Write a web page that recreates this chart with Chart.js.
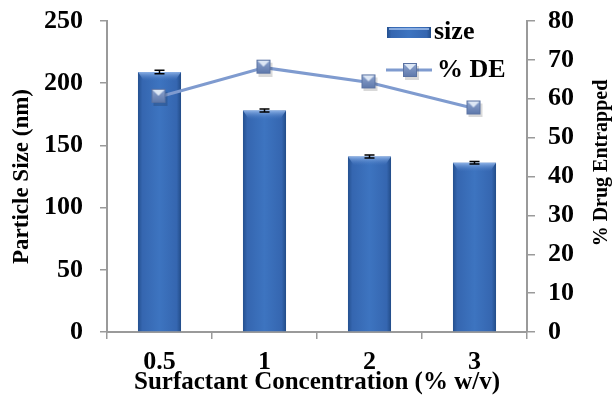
<!DOCTYPE html>
<html>
<head>
<meta charset="utf-8">
<script src="https://cdn.jsdelivr.net/npm/chart.js@4"></script>
<style>
  body { margin: 0; background: #fff; }
  #wrap { width: 616px; height: 398px; }
</style>
</head>
<body>
<div id="wrap"><canvas id="chart" width="616" height="398"></canvas></div>
<script>
// Chart data
const categories = ['0.5', '1', '2', '3'];
const sizeValues = [209, 178, 141, 136];
const sizeErrors = [1.5, 1.2, 1.2, 1.0];
const deValues = [60.5, 68, 64.2, 57.5];
const sizeTicks = [0, 50, 100, 150, 200, 250];
const deTicks = [0, 10, 20, 30, 40, 50, 60, 70, 80];

const FONT = "'Liberation Serif', 'Times New Roman', serif";
const LINE_COLOR = '#7f9bcf';
const AXIS_COLOR = '#9a9a9a';

// square marker with light triangle on top (like the Excel style)
function makeMarker() {
  const c = document.createElement('canvas');
  c.width = 18; c.height = 18;
  const g = c.getContext('2d');
  g.fillStyle = 'rgba(0,0,0,0.15)';
  g.fillRect(3, 4, 14, 14);
  const grad = g.createLinearGradient(0, 1, 0, 15);
  grad.addColorStop(0, '#8fa6d0');
  grad.addColorStop(1, '#5d77aa');
  g.fillStyle = grad;
  g.fillRect(1, 1, 14, 14);
  g.fillStyle = '#dde7f5';
  g.beginPath();
  g.moveTo(2, 2); g.lineTo(14, 2); g.lineTo(8, 8); g.closePath();
  g.fill();
  g.strokeStyle = '#5a72a2';
  g.lineWidth = 1;
  g.strokeRect(1.5, 1.5, 13, 13);
  return c;
}
const marker = makeMarker();

function barGradient(ctx, left, right) {
  const gr = ctx.createLinearGradient(left, 0, right, 0);
  gr.addColorStop(0, '#24508f');
  gr.addColorStop(0.1, '#3566b0');
  gr.addColorStop(0.5, '#3d74c0');
  gr.addColorStop(0.9, '#3566b0');
  gr.addColorStop(1, '#224c88');
  return gr;
}

// error bars + top bevel on the bars
const barExtras = {
  id: 'barExtras',
  afterDatasetDraw(chart, args) {
    if (args.index !== 1) return;
    const ctx = chart.ctx;
    const y = chart.scales.y;
    const meta = chart.getDatasetMeta(1);
    ctx.save();
    meta.data.forEach((bar, i) => {
      const half = bar.width / 2;
      const hg = ctx.createLinearGradient(0, bar.y, 0, bar.y + 9);
      hg.addColorStop(0, 'rgba(150,185,235,0.9)');
      hg.addColorStop(1, 'rgba(70,120,195,0)');
      ctx.fillStyle = hg;
      ctx.beginPath();
      ctx.moveTo(bar.x - half, bar.y);
      ctx.lineTo(bar.x + half, bar.y);
      ctx.lineTo(bar.x + half - 6, bar.y + 9);
      ctx.lineTo(bar.x - half + 6, bar.y + 9);
      ctx.closePath();
      ctx.fill();
      // error bar
      const top = y.getPixelForValue(sizeValues[i] + sizeErrors[i]);
      const bot = y.getPixelForValue(sizeValues[i] - sizeErrors[i]);
      ctx.strokeStyle = '#000';
      ctx.lineWidth = 1.5;
      ctx.beginPath();
      ctx.moveTo(bar.x, top); ctx.lineTo(bar.x, bot);
      ctx.moveTo(bar.x - 5, top); ctx.lineTo(bar.x + 5, top);
      ctx.moveTo(bar.x - 5, bot); ctx.lineTo(bar.x + 5, bot);
      ctx.stroke();
    });
    ctx.restore();
  }
};

// legend in the top right corner + right axis title (reads bottom to top)
const cornerLegend = {
  id: 'cornerLegend',
  afterDraw(chart) {
    const ctx = chart.ctx;
    ctx.save();
    ctx.fillStyle = barGradient(ctx, 387, 431);
    ctx.fillRect(387, 27, 44, 11);
    ctx.fillStyle = 'rgba(160,190,235,0.8)';
    ctx.fillRect(389, 28, 40, 2);
    ctx.strokeStyle = LINE_COLOR;
    ctx.lineWidth = 3;
    ctx.beginPath();
    ctx.moveTo(386, 70); ctx.lineTo(432, 70);
    ctx.stroke();
    ctx.drawImage(marker, 402, 62);
    ctx.fillStyle = '#000';
    ctx.font = 'bold 26px ' + FONT;
    ctx.textBaseline = 'middle';
    ctx.fillText('size', 434, 32);
    ctx.fillText('% DE', 437, 70);

    ctx.font = 'bold 20px ' + FONT;
    ctx.textAlign = 'center';
    ctx.translate(602, 163);
    ctx.rotate(-Math.PI / 2);
    ctx.fillText('% Drug Entrapped', 0, 0);
    ctx.restore();
  }
};

const tickFont = { family: FONT, size: 26, weight: 'bold' };

// fixed axis box sizes so the plot sits where the reference has it
function fitY(width) {
  return s => { s.width = width; s.paddingTop = 0; s.paddingBottom = 0; };
}

const ctx = document.getElementById('chart').getContext('2d');
const chart = new Chart(ctx, {
  data: {
    labels: categories,
    datasets: [{
      type: 'line',
      label: '% DE',
      data: deValues,
      yAxisID: 'y1',
      borderColor: LINE_COLOR,
      borderWidth: 3,
      pointStyle: marker,
      pointRadius: 8,
      fill: false,
      tension: 0,
      order: 0
    }, {
      type: 'bar',
      label: 'size',
      data: sizeValues,
      yAxisID: 'y',
      order: 1,
      barPercentage: 0.82,
      categoryPercentage: 0.5,
      backgroundColor: c => {
        const ch = c.chart;
        if (!ch.chartArea) return '#3567b0';
        const xs = ch.scales.x;
        const cx = xs.getPixelForValue(c.dataIndex);
        const half = (xs.width / categories.length) * 0.41 / 2;
        return barGradient(ch.ctx, cx - half, cx + half);
      }
    }]
  },
  options: {
    responsive: false,
    animation: false,
    devicePixelRatio: 1,
    layout: { padding: { top: 21, left: 0, right: 0, bottom: 0 } },
    plugins: {
      legend: { display: false },
      tooltip: { enabled: false }
    },
    scales: {
      x: {
        grid: { drawOnChartArea: false, tickLength: 7, color: AXIS_COLOR, lineWidth: 1.5 },
        border: { color: AXIS_COLOR, width: 2 },
        ticks: { color: '#000', font: tickFont, padding: 8 },
        title: {
          display: true, text: 'Surfactant Concentration (% w/v)', color: '#000',
          font: { family: FONT, size: 25, weight: 'bold' }, padding: { top: 0, bottom: 0 }
        },
        afterFit: s => { s.height = 66; s.paddingLeft = 0; s.paddingRight = 0; }
      },
      y: {
        position: 'left',
        min: 0, max: 250,
        afterBuildTicks: s => { s.ticks = sizeTicks.map(v => ({ value: v })); },
        grid: { drawOnChartArea: false, tickLength: 7, color: AXIS_COLOR, lineWidth: 1.5 },
        border: { color: AXIS_COLOR, width: 2 },
        ticks: { color: '#000', font: tickFont, padding: 17 },
        title: {
          display: true, text: 'Particle Size (nm)', color: '#000',
          font: { family: FONT, size: 23, weight: 'bold' }, padding: { top: 8, bottom: 0 }
        },
        afterFit: fitY(107)
      },
      y1: {
        position: 'right',
        min: 0, max: 80,
        afterBuildTicks: s => { s.ticks = deTicks.map(v => ({ value: v })); },
        grid: { drawOnChartArea: false, tickLength: 8, color: AXIS_COLOR, lineWidth: 1.5 },
        border: { color: AXIS_COLOR, width: 2 },
        ticks: { color: '#000', font: tickFont, padding: 13 },
        afterFit: fitY(89)
      }
    }
  },
  plugins: [barExtras, cornerLegend]
});
</script>
</body>
</html>
